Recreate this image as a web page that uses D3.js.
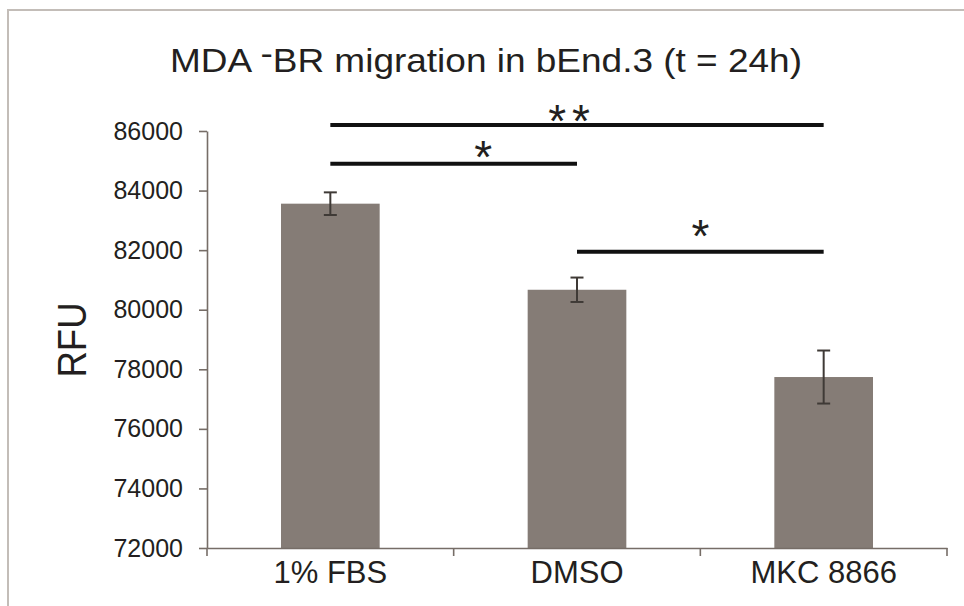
<!DOCTYPE html>
<html>
<head>
<meta charset="utf-8">
<script src="https://cdn.jsdelivr.net/npm/d3@7"></script>
<style>
  body { margin: 0; background: #fff; }
  svg text { font-family: "Liberation Sans", Arial, sans-serif; fill: #231f20; }
</style>
</head>
<body>
<div id="chart"></div>
<script>
// data
const groups = ["1% FBS", "DMSO", "MKC 8866"];
const rfu = [83560, 80670, 77740];
const sem = [380, 410, 890];
const yTicks = [72000, 74000, 76000, 78000, 80000, 82000, 84000, 86000];

// significance brackets
const sigFrom = ["1% FBS", "1% FBS", "DMSO"];
const sigTo = ["MKC 8866", "DMSO", "MKC 8866"];
const sigLevel = [86200, 84900, 81950];
const sigText = ["**", "*", "*"];
const sigMarkLevel = [86720, 85500, 82860];
const sigMarkAt = [0.49, 0.62, 0.5];

const W = 964, H = 606;
const margin = {top: 131, right: 17, bottom: 58, left: 207};

const svg = d3.select("#chart").append("svg")
  .attr("width", W)
  .attr("height", H);

// frame
svg.append("path")
  .attr("d", `M8,${H} V10 H${W}`)
  .attr("fill", "none")
  .attr("stroke", "#c3bdb8")
  .attr("stroke-width", 2);

const x = d3.scaleBand()
  .domain(groups)
  .range([margin.left, W - margin.right]);

const y = d3.scaleLinear()
  .domain([72000, 86000])
  .range([H - margin.bottom, margin.top]);

const axisColor = "#766d67";

// title (the dash sits raised in the original)
const title = svg.append("text")
  .attr("x", 486)
  .attr("y", 72)
  .attr("text-anchor", "middle")
  .attr("font-size", 34)
  .attr("textLength", 632)
  .attr("lengthAdjust", "spacingAndGlyphs");
title.append("tspan").text("MDA ");
title.append("tspan").attr("dy", -7).text("-");
title.append("tspan").attr("dy", 7).text("BR migration in bEnd.3 (t = 24h)");

// y axis
const yAxis = svg.append("g")
  .attr("transform", `translate(${margin.left},0)`)
  .call(d3.axisLeft(y).tickValues(yTicks).tickFormat(d3.format("d"))
    .tickSize(8).tickSizeOuter(0).tickPadding(16));
yAxis.selectAll("text").attr("font-size", 25).attr("fill", "#231f20");
yAxis.selectAll("path, line").attr("stroke", axisColor).attr("stroke-width", 1.6);

// y label
svg.append("text")
  .attr("transform", "translate(86,340) rotate(-90)")
  .attr("text-anchor", "middle")
  .attr("font-size", 41)
  .attr("textLength", 75)
  .attr("lengthAdjust", "spacingAndGlyphs")
  .text("RFU");

// bars
const barW = x.bandwidth() * 0.4;
svg.append("g").selectAll("rect")
  .data(groups)
  .join("rect")
    .attr("x", d => x(d) + (x.bandwidth() - barW) / 2)
    .attr("y", (d, i) => y(rfu[i]))
    .attr("width", barW)
    .attr("height", (d, i) => y(72000) - y(rfu[i]))
    .attr("fill", "#857c76");

// error bars
const eb = svg.append("g").attr("stroke", "#3f3a36").attr("stroke-width", 2);
groups.forEach((g, i) => {
  const cx = x(g) + x.bandwidth() / 2;
  eb.append("line").attr("x1", cx).attr("x2", cx)
    .attr("y1", y(rfu[i] + sem[i])).attr("y2", y(rfu[i] - sem[i]));
  [rfu[i] + sem[i], rfu[i] - sem[i]].forEach(v => {
    eb.append("line").attr("x1", cx - 6.5).attr("x2", cx + 6.5)
      .attr("y1", y(v)).attr("y2", y(v));
  });
});

// x axis
const xAxis = svg.append("g")
  .attr("transform", `translate(0,${y(72000)})`)
  .call(d3.axisBottom(x).tickSize(0).tickSizeOuter(0).tickPadding(13));
xAxis.selectAll("text").attr("font-size", 31).attr("fill", "#231f20");
xAxis.select(".domain").attr("stroke", axisColor).attr("stroke-width", 1.6);
xAxis.selectAll(".boundary")
  .data(d3.range(groups.length + 1))
  .join("line")
    .attr("class", "boundary")
    .attr("x1", i => x.range()[0] + i * x.step())
    .attr("x2", i => x.range()[0] + i * x.step())
    .attr("y1", 0)
    .attr("y2", 8)
    .attr("stroke", axisColor)
    .attr("stroke-width", 1.6);

// significance
const mid = g => x(g) + x.bandwidth() / 2;
sigText.forEach((t, i) => {
  const x1 = mid(sigFrom[i]), x2 = mid(sigTo[i]);
  svg.append("line")
    .attr("x1", x1).attr("x2", x2)
    .attr("y1", y(sigLevel[i])).attr("y2", y(sigLevel[i]))
    .attr("stroke", "#111")
    .attr("stroke-width", 4);
  svg.append("text")
    .attr("x", x1 + (x2 - x1) * sigMarkAt[i])
    .attr("y", y(sigMarkLevel[i]) + 27)
    .attr("text-anchor", "middle")
    .attr("font-size", 46)
    .attr("letter-spacing", t.length > 1 ? 6 : 0)
    .text(t);
});
</script>
</body>
</html>
